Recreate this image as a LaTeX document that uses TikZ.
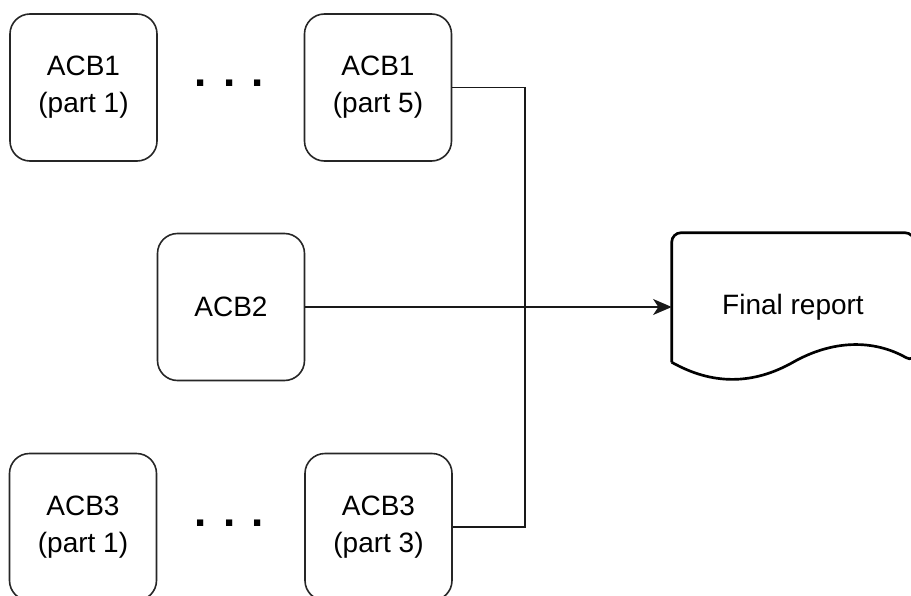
\documentclass[tikz,border=0pt]{standalone}
\usepackage{fontspec}
\setmainfont{Liberation Sans}
\usetikzlibrary{arrows.meta,calc}

\tikzset{
  acb/.style={draw=black!85, line width=1.2pt, rounded corners=15pt,
    minimum width=110.25pt, minimum height=110.25pt, align=center,
    font=\fontsize{21pt}{27.75pt}\selectfont},
  gap/.style={font=\fontsize{33pt}{33pt}\selectfont\bfseries, inner sep=0pt},
  wire/.style={line width=1.1pt, black!90},
}

\begin{document}
\begin{tikzpicture}[x=0.75pt, y=-0.75pt]
        \useasboundingbox (0,0) rectangle (911,596);

        % ACB1 row
        \node[acb] (a1p1) at (83.5, 87.5) {ACB1\\(part 1)};
        \node[gap] (dots1) at (229.5, 83) {. . .};
        \node[acb] (a1p5) at (378, 87.5) {ACB1\\(part 5)};

        % ACB2
        \node[acb] (a2) at (231, 307) {ACB2};

        % ACB3 row
        \node[acb] (a3p1) at (83, 527) {ACB3\\(part 1)};
        \node[gap] (dots3) at (229.5, 523) {. . .};
        \node[acb] (a3p3) at (378.5, 527) {ACB3\\(part 3)};

        % final report (document shape)
        \node[minimum width=181.5pt, minimum height=111pt, inner sep=0pt,
              font=\fontsize{21pt}{27.75pt}\selectfont] (report) at (793, 307) {Final report};
        \draw[line width=2pt, black, rounded corners=7pt]
              ($(report.south west)+(0,-19)$) -- (report.north west)
              -- (report.north east) -- ($(report.south east)+(0,-19)$)
              [sharp corners]
              .. controls ($(report.south east)+(-40.33,-41.8)$) and ($(report.south)+(40.33,-41.8)$) .. ($(report.south)+(0,-19)$)
              .. controls ($(report.south)+(-40.33,3.8)$) and ($(report.south west)+(40.33,3.8)$) .. ($(report.south west)+(0,-19)$);

        % connectors
        \coordinate (bus) at (525, 307);
        \draw[wire] (a1p5.east) -| (bus) |- (a3p3.east);
        \draw[wire, -{Stealth[length=14pt, width=12pt, inset=4pt]}] (a2.east) -- (report.west);
    \end{tikzpicture}
\end{document}
